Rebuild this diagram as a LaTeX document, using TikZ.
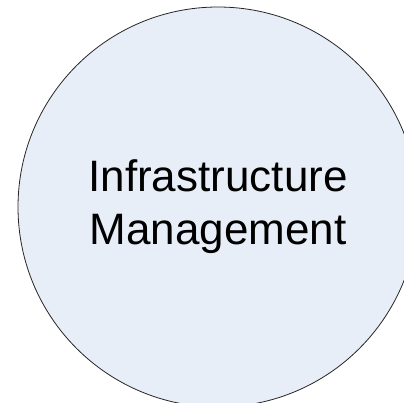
\documentclass[tikz,border=0pt]{standalone}
\usepackage{fontspec}
\setmainfont{Liberation Sans}
\definecolor{discfill}{HTML}{E8EEF8}
\tikzset{
  disc/.style={circle, draw=black!85, line width=0.8pt, fill=discfill,
    minimum size=400pt, inner sep=0pt, align=center,
    font=\fontsize{44}{53}\selectfont}
}
\begin{document}
\begin{tikzpicture}[x=1pt,y=1pt]
\useasboundingbox (0,0) rectangle (404,402);
\clip (0,0) rectangle (404,402);
\node[disc] (infra) at (218,195) {Infrastructure\\Management};
\end{tikzpicture}
\end{document}
